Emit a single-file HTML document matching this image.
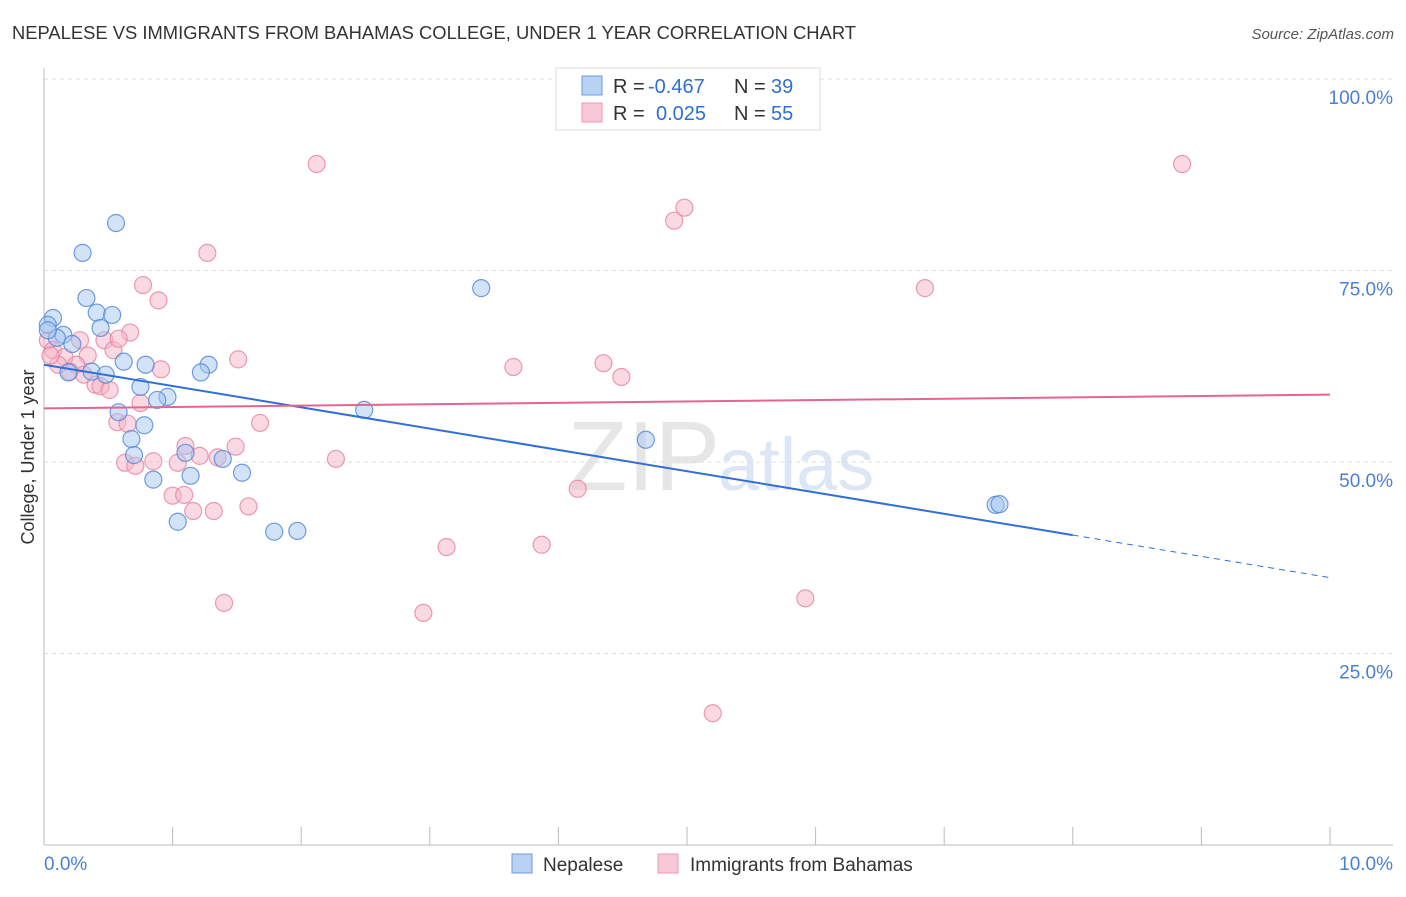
<!DOCTYPE html>
<html><head><meta charset="utf-8"><style>
body{margin:0;background:#fff;font-family:"Liberation Sans",sans-serif;}
svg text{font-family:"Liberation Sans",sans-serif;}
</style></head><body>
<svg id="chart" width="1406" height="892" xmlns="http://www.w3.org/2000/svg">
<text x="12" y="39" font-size="18" fill="#333" textLength="844" lengthAdjust="spacingAndGlyphs">NEPALESE VS IMMIGRANTS FROM BAHAMAS COLLEGE, UNDER 1 YEAR CORRELATION CHART</text>
<text x="1394" y="39" font-size="15" fill="#555" font-style="italic" text-anchor="end">Source: ZipAtlas.com</text>
<text x="720" y="490" font-size="98" fill="#e6e6e6" font-family="Liberation Serif" text-anchor="end">ZIP</text>
<text x="718" y="490" font-size="74" fill="#dce6f4">atlas</text>
<g id="grid"></g><g id="marks"></g>
<text transform="translate(34,457) rotate(-90)" font-size="18" fill="#333" text-anchor="middle">College, Under 1 year</text>
<text x="44" y="870" font-size="19" fill="#4a7fd4">0.0%</text>
<text x="1393" y="870" font-size="19" fill="#4a7fd4" text-anchor="end">10.0%</text>
<g>
<rect x="556" y="68" width="264" height="62" fill="#fff" stroke="#ddd"/>
<rect x="582" y="76" width="20" height="19" fill="#b8d2f4" stroke="#6a9ae0"/>
<rect x="582" y="103" width="20" height="19" fill="#f8c8d6" stroke="#eb9ab2"/>
<text y="93" font-size="20" fill="#333"><tspan x="613">R =</tspan><tspan x="648" fill="#2f6fd0">-0.467</tspan><tspan x="734">N =</tspan><tspan x="771" fill="#2f6fd0">39</tspan></text>
<text y="120" font-size="20" fill="#333"><tspan x="613">R =</tspan><tspan x="656" fill="#2f6fd0">0.025</tspan><tspan x="734">N =</tspan><tspan x="771" fill="#2f6fd0">55</tspan></text>
</g>
<g>
<rect x="512" y="854" width="20" height="19" fill="#b8d2f4" stroke="#6a9ae0"/>
<text x="543" y="871" font-size="19" fill="#333">Nepalese</text>
<rect x="658" y="854" width="20" height="19" fill="#f8c8d6" stroke="#eb9ab2"/>
<text x="690" y="871" font-size="19" fill="#333">Immigrants from Bahamas</text>
</g>
</svg>
<script>
const yTicks=[100,75,50,25];
const yTickLabels=["100.0%","75.0%","50.0%","25.0%"];
const xTicks=[0,1,2,3,4,5,6,7,8,9,10];
const nepX=[0.56,0.30,0.33,0.41,0.53,0.07,0.03,0.15,0.44,0.10,0.22,0.62,0.79,0.37,0.19,0.48,0.75,0.96,0.88,1.28,1.22,0.58,0.78,0.68,0.70,1.10,1.39,0.85,1.14,1.54,2.49,1.04,1.79,1.97,3.40,4.68,7.40,7.43,0.03];
const nepY=[81.2,77.3,71.4,69.5,69.2,68.8,67.9,66.6,67.5,66.2,65.4,63.1,62.7,61.8,61.7,61.4,59.8,58.5,58.1,62.7,61.7,56.5,54.8,53.0,50.9,51.2,50.4,47.7,48.2,48.6,56.8,42.2,40.9,41.0,72.7,52.9,44.4,44.5,67.2];
const bahX=[2.12,8.85,4.98,4.90,1.27,0.77,0.89,6.85,0.67,0.47,0.28,0.03,0.07,0.16,0.34,0.54,0.25,0.20,0.31,0.40,0.44,0.51,0.91,1.51,3.65,4.35,4.49,0.75,0.57,0.65,1.68,1.10,1.49,1.35,1.21,0.85,0.63,0.71,2.27,1.04,1.00,1.09,1.59,1.16,1.32,4.15,3.13,3.87,1.40,2.95,5.92,5.20,0.11,0.05,0.58];
const bahY=[88.9,88.9,83.2,81.5,77.3,73.1,71.1,72.7,66.9,65.9,65.9,65.9,64.6,63.7,63.9,64.6,62.7,61.8,61.4,60.1,59.9,59.4,62.1,63.4,62.4,62.9,61.1,57.7,55.2,55.0,55.1,52.1,52.0,50.6,50.8,50.1,49.9,49.5,50.4,49.9,45.6,45.7,44.2,43.6,43.6,46.5,38.9,39.2,31.6,30.3,32.2,17.2,62.7,63.9,66.1];
const nepTrend=[62.7,34.9];
const bahTrend=[57.0,58.8];
const nepSolidEnd=8.0;
const X=v=>44+v/10*1286, Y=v=>845-v/100*766;
const NS="http://www.w3.org/2000/svg";
const grid=document.getElementById('grid'), marks=document.getElementById('marks');
function mk(tag,at,parent){const e=document.createElementNS(NS,tag);for(const k in at)e.setAttribute(k,at[k]);parent.appendChild(e);return e;}
yTicks.forEach((t,i)=>{
 const l=mk('line',{x1:44,x2:1393,y1:Y(t),y2:Y(t),stroke:'#ddd','stroke-dasharray':'4 4'},grid);
 
 
 const tx=mk('text',{x:1393,y:Y(t)+25,'font-size':19,fill:'#4a7fd4','text-anchor':'end'},grid);
 tx.textContent=yTickLabels[i];
 
 
});
const ya=mk('line',{x1:44,x2:44,y1:68,y2:845,stroke:'#bbb'},grid);


const xa=mk('line',{x1:44,x2:1393,y1:845,y2:845,stroke:'#bbb'},grid);


xTicks.forEach(t=>{
 const l=mk('line',{x1:X(t),x2:X(t),y1:827,y2:845,stroke:'#bbb'},grid);
 
 
});
function pts(xs,ys,fill,stroke,name){
 xs.forEach((x,i)=>{
  const c=mk('circle',{cx:X(x),cy:Y(ys[i]),r:8.5,fill:fill,'fill-opacity':0.5,stroke:stroke,'stroke-width':1.2,'stroke-opacity':0.8},marks);
  
  
 });
}
pts(bahX,bahY,'#f5b3c6','#e8829f','bahamas-point');
pts(nepX,nepY,'#a6c6ef','#4f86d8','nepalese-point');
const ny=x=>nepTrend[0]+(nepTrend[1]-nepTrend[0])*x/10;
const l1=mk('line',{x1:X(0),y1:Y(ny(0)),x2:X(nepSolidEnd),y2:Y(ny(nepSolidEnd)),stroke:'#2f6fd6','stroke-width':2},marks);


const l2=mk('line',{x1:X(nepSolidEnd),y1:Y(ny(nepSolidEnd)),x2:X(10),y2:Y(ny(10)),stroke:'#2f6fd6','stroke-width':1,'stroke-dasharray':'6 5'},marks);


const l3=mk('line',{x1:X(0),y1:Y(bahTrend[0]),x2:X(10),y2:Y(bahTrend[1]),stroke:'#e4668f','stroke-width':2},marks);


</script>
</body></html>
